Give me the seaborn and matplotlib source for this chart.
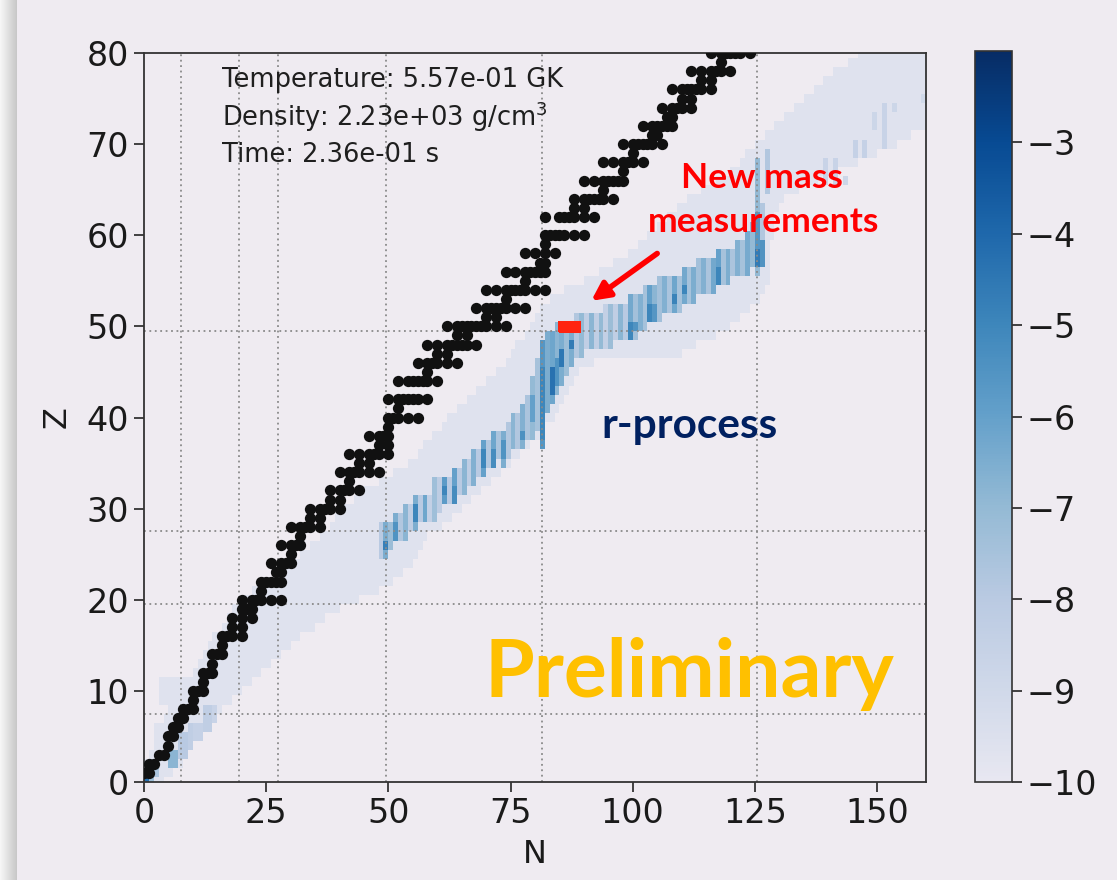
import numpy as np
import matplotlib
matplotlib.use("Agg")
import matplotlib.pyplot as plt
from matplotlib.colors import ListedColormap, to_rgb
import pandas as pd
import seaborn as sns

# ---------------------------------------------------------------- data
BG = "#efebf1"

TEMPERATURE_GK = 5.57e-01
DENSITY = 2.23e+03
TIME_S = 2.36e-01

MAGIC_N = [8, 20, 28, 50, 82, 126]
MAGIC_Z = [8, 20, 28, 50, 82]

# stable nuclei: neutron numbers for each proton number Z = 1..80
STABLE_Z = list(range(1, 81))
STABLE_N = [
    [0, 1], [1, 2], [3, 4], [5], [5, 6], [6, 7], [7, 8], [8, 9, 10], [10], [10, 11, 12],
    [12], [12, 13, 14], [14], [14, 15, 16], [16], [16, 17, 18, 20], [18, 20], [18, 20, 22],
    [20, 21, 22], [20, 22, 23, 24, 26, 28],
    [24], [24, 25, 26, 27, 28], [27, 28], [26, 28, 29, 30], [30], [28, 30, 31, 32], [32],
    [30, 32, 33, 34, 36], [34, 36], [34, 36, 37, 38, 40],
    [38, 40], [38, 40, 41, 42, 44], [42], [40, 42, 43, 44, 46, 48], [44, 46],
    [42, 44, 46, 47, 48, 50], [48, 50], [46, 48, 49, 50], [50], [50, 51, 52, 54, 56],
    [52], [50, 52, 53, 54, 55, 56, 58], [], [52, 54, 55, 56, 57, 58, 60], [58],
    [56, 58, 59, 60, 62, 64], [60, 62], [58, 60, 62, 63, 64, 65, 66, 68], [64, 66],
    [62, 64, 65, 66, 67, 68, 69, 70, 72, 74],
    [70, 72], [68, 70, 71, 72, 73, 74, 76, 78], [74], [70, 72, 74, 75, 76, 77, 78, 80, 82], [78],
    [74, 76, 78, 79, 80, 81, 82], [81, 82], [78, 80, 82, 84], [82], [82, 83, 84, 85, 86, 88, 90],
    [], [82, 85, 86, 87, 88, 90, 92], [88, 90], [88, 90, 91, 92, 93, 94, 96], [94],
    [90, 92, 94, 95, 96, 97, 98], [98], [94, 96, 98, 99, 100, 102], [100],
    [98, 100, 101, 102, 103, 104, 106],
    [104, 105], [102, 104, 105, 106, 107, 108], [107, 108], [106, 108, 109, 110, 112], [110, 112],
    [108, 110, 111, 112, 113, 114, 116], [114, 116], [112, 114, 116, 117, 118, 120], [118],
    [116, 118, 119, 120, 121, 122, 124],
]

# faint abundance band: first and last neutron number for Z = 0..80
ENV_LO = [0, 0, 1, 2, 3, 3, 3, 5, 6, 4, 4, 4, 11, 12, 13, 14, 15, 17, 18, 19,
          21, 23, 25, 28, 30, 33, 35, 37, 39, 40, 42, 44, 46, 49, 52, 55, 57, 58, 60, 62,
          63, 65, 67, 69, 71, 73, 75, 76, 77, 79, 80, 81, 82, 84, 87, 91, 94, 97, 100, 102,
          104, 106, 108, 110, 112, 115, 118, 121, 123, 124, 126, 128, 130, 132, 134, 136,
          138, 140, 142, 145, 147]
ENV_HI = [4, 6, 8, 9, 10, 11, 13, 14, 16, 18, 20, 22, 24, 26, 28, 30, 32, 35, 37, 40,
          44, 48, 51, 53, 55, 56, 57, 58, 61, 63, 65, 67, 69, 71, 73, 75, 77, 79, 81, 82,
          84, 85, 86, 87, 88, 89, 92, 110, 113, 117, 120, 122, 124, 126, 127, 128, 128, 128,
          128, 128, 129, 129, 129, 130, 131, 134, 138, 142, 146, 150, 154, 157, 160, 160,
          160, 160, 160, 160, 160, 160, 160]
ENV_LOGY = -9.6

# r-process abundance strips: neutron number, Z range, log10 abundance
STRIP_N = [1, 2, 1, 3, 6, 7, 8, 9, 10, 11, 12, 13, 14, 15,
           49, 50, 50, 51, 52, 52, 53, 54, 55, 56, 56, 57, 58, 59, 60, 61, 62, 62, 63, 64, 64,
           65, 66, 67, 68, 69, 70, 70, 71, 72, 72, 73, 74, 74, 75, 76, 77, 78, 78, 79, 80, 80,
           81, 82, 82, 83, 84, 84, 85, 85, 86, 86, 87, 88, 88, 89, 90, 91, 92, 93, 94, 95, 96,
           97, 98, 99, 100, 100, 101, 101, 102, 103, 104, 104, 105, 105, 106, 107, 108, 109,
           109, 110, 111, 111, 112, 113, 114, 115, 116, 117, 118, 118, 119, 120, 121, 122,
           123, 124, 125, 126, 126, 126, 127, 127, 128,
           140, 142, 144, 146, 148, 150, 152, 154, 160]
STRIP_ZLO = [0, 0, 0, 1, 2, 2, 3, 3, 4, 5, 5, 6, 6, 7,
             25, 25, 26, 26, 27, 27, 27, 27, 28, 28, 29, 29, 29, 29, 29, 30, 31, 32, 31, 31, 31,
             32, 32, 33, 33, 34, 34, 35, 35, 35, 35, 36, 35, 36, 36, 37, 37, 37, 38, 38, 38, 40,
             39, 37, 38, 41, 42, 43, 43, 44, 44, 46, 45, 46, 48, 47, 47, 48, 48, 48, 48, 48, 48,
             49, 49, 49, 49, 49, 49, 50, 50, 50, 51, 51, 51, 51, 51, 52, 52, 52,
             53, 52, 53, 54, 53, 53, 54, 54, 54, 54, 55, 55, 55, 55, 56, 56,
             56, 56, 57, 56, 57, 57, 57, 60, 65,
             66, 66, 66, 69, 69, 72, 70, 74, 75]
STRIP_ZHI = [1, 2, 0, 2, 3, 3, 5, 5, 6, 6, 6, 8, 8, 8,
             28, 28, 26, 28, 29, 28, 29, 30, 30, 31, 30, 31, 31, 31, 33, 33, 33, 32, 33, 34, 32,
             34, 35, 35, 36, 36, 37, 36, 37, 38, 36, 38, 38, 37, 39, 40, 40, 41, 38, 42, 44, 42,
             46, 48, 45, 49, 49, 45, 50, 46, 50, 47, 50, 50, 48, 51, 51, 51, 51, 51, 51, 52, 52,
             52, 52, 52, 53, 50, 53, 50, 53, 54, 54, 52, 54, 52, 55, 55, 55, 55,
             53, 55, 56, 54, 56, 56, 57, 57, 57, 57, 58, 56, 58, 58, 58, 59,
             59, 60, 61, 68, 62, 58, 59, 63, 69,
             68, 68, 66, 70, 70, 73, 74, 74, 75]
STRIP_LOGY = [-6.5, -7.2, -4.2, -7.6, -6.8, -6.8, -8.0, -8.0, -8.3, -8.5, -8.5, -8.3, -8.3, -8.6,
              -8.0, -6.5, -4.8, -7.2, -6.5, -5.5, -7.8, -6.8, -8.2, -6.5, -5.0, -8.0, -6.2, -8.4,
              -7.3, -8.2, -5.8, -5.0, -8.0, -6.0, -5.2,
              -8.0, -6.8, -8.2, -6.6, -8.0, -6.0, -5.0, -7.8, -6.2, -5.2, -7.6, -6.5, -5.5, -7.8,
              -6.8, -7.8, -6.6, -5.4, -7.6, -7.0, -6.0,
              -7.5, -5.6, -5.0, -6.5, -6.2, -4.3, -6.8, -5.5, -6.5, -4.5, -7.2, -6.5, -4.6, -7.8,
              -7.0, -8.3, -6.8, -8.3, -7.0, -8.4, -7.2,
              -8.3, -6.8, -8.0, -6.3, -5.0, -7.4, -5.5, -6.6, -7.5, -6.0, -5.0, -6.8, -5.6, -7.4,
              -6.6, -7.6, -6.2,
              -4.9, -7.5, -6.3, -5.0, -7.5, -6.5, -7.4, -6.6, -7.6, -6.3, -6.0, -5.0, -7.5, -6.5,
              -7.6, -6.6,
              -7.5, -6.4, -7.0, -7.0, -5.6, -4.6, -5.5, -7.8, -7.8,
              -8.6, -8.6, -8.8, -8.5, -8.5, -8.8, -8.6, -8.8, -9.0]

# newly measured nuclei
MEASURED_Z = 50
MEASURED_N = [86, 87, 88, 89]

LOG_MIN, LOG_MAX = -10.0, -2.0
N_MAX, Z_MAX = 160, 80

# ---------------------------------------------------------------- style
sns.set_theme(style="ticks")
plt.rcParams["font.family"] = ["DejaVu Sans"]
plt.rcParams["axes.edgecolor"] = "#333333"
plt.rcParams["axes.linewidth"] = 1.3

tint = np.array(to_rgb(BG))
blues = plt.get_cmap("Blues")(np.linspace(0, 1, 256))[:, :3] * tint
cmap = ListedColormap(blues)

# ---------------------------------------------------------------- grids
grid = np.full((Z_MAX + 1, N_MAX + 1), np.nan)
for z in range(Z_MAX + 1):
    grid[z, ENV_LO[z]:ENV_HI[z] + 1] = ENV_LOGY
for n, z0, z1, v in zip(STRIP_N, STRIP_ZLO, STRIP_ZHI, STRIP_LOGY):
    col = grid[z0:z1 + 1, n]
    grid[z0:z1 + 1, n] = np.where(np.isnan(col), v, np.maximum(col, v))

# cell N occupies [N-1, N]; cell Z is centred on Z
n_edges = np.arange(-1, N_MAX + 1)
z_edges = np.arange(-0.5, Z_MAX + 1)

meas_n_edges = np.arange(min(MEASURED_N) - 1, max(MEASURED_N) + 1)
meas_z_edges = np.array([MEASURED_Z - 0.5, MEASURED_Z + 0.5])
meas_vals = np.ones((1, len(MEASURED_N)))

stable = pd.DataFrame(
    [(n, z) for z, ns in zip(STABLE_Z, STABLE_N) for n in ns], columns=["N", "Z"]
)

# ---------------------------------------------------------------- figure
W, H = 1117, 880
fig = plt.figure(figsize=(W / 100, H / 100), dpi=100, facecolor=BG)
ax = fig.add_axes([144 / W, 1 - 782 / H, 782 / W, 729 / H], facecolor=BG)
cax = fig.add_axes([975 / W, 1 - 782 / H, 37 / W, 731 / H])

# soft shadow along the left edge of the slide
shade = fig.add_axes([0, 0, 17 / W, 1])
shade.imshow(np.linspace(0.97, 0.78, 64)[None, :], cmap="gray", vmin=0, vmax=1,
             aspect="auto", extent=[0, 1, 0, 1])
shade.set_axis_off()

mesh = ax.pcolormesh(n_edges, z_edges, grid, cmap=cmap, vmin=LOG_MIN, vmax=LOG_MAX,
                     shading="flat", zorder=1)
ax.pcolormesh(meas_n_edges, meas_z_edges, meas_vals, cmap=ListedColormap(["#ff2410"]),
              shading="flat", edgecolors="#ff2410", linewidth=1.8, zorder=4)

for m in MAGIC_N:
    ax.axvline(m - 0.5, color="#8a8a8a", lw=1.3, ls=(0, (1, 2)), zorder=2)
for m in MAGIC_Z:
    ax.axhline(m - 0.5, color="#8a8a8a", lw=1.3, ls=(0, (1, 2)), zorder=2)

sns.scatterplot(data=stable, x="N", y="Z", ax=ax, color="#111111", s=66,
                linewidth=0, zorder=3, legend=False)

ax.set_xlim(0, N_MAX)
ax.set_ylim(0, Z_MAX)
ax.set_xticks([0, 25, 50, 75, 100, 125, 150])
ax.set_yticks(range(0, 81, 10))
ax.tick_params(labelsize=24, length=7, width=1.3, color="#333333", labelcolor="#1a1a1a",
               pad=4)
ax.set_xlabel("N", fontsize=23, color="#1a1a1a", labelpad=6)
ax.set_ylabel("Z", fontsize=23, color="#1a1a1a", labelpad=10)
for sp in ax.spines.values():
    sp.set_visible(True)

cb = fig.colorbar(mesh, cax=cax, ticks=range(-10, -2))
cb.outline.set_edgecolor("#333333")
cb.outline.set_linewidth(1.2)
cax.tick_params(labelsize=24, length=7, width=1.3, color="#333333", labelcolor="#1a1a1a")

# run conditions
info = [
    f"Temperature: {TEMPERATURE_GK:.2e} GK",
    f"Density: {DENSITY:.2e} g/cm$^3$",
    f"Time: {TIME_S:.2e} s",
]
for txt, yb in zip(info, [0.9527, 0.9005, 0.8498]):
    ax.text(0.1, yb, txt, transform=ax.transAxes, fontsize=18.5, color="#1f1f1f",
            va="baseline", ha="left", zorder=6)

label_font = dict(fontweight="bold", family=["Lato", "DejaVu Sans"], zorder=6,
                  transform=ax.transAxes, ha="center", va="center")
ax.text(0.790, 0.8285, "New mass", fontsize=25.5, color="#ff0000", **label_font)
ax.text(0.792, 0.7682, "measurements", fontsize=25.5, color="#ff0000", **label_font)
ax.annotate("", xy=(91.5, 52.8), xytext=(105.0, 58.0),
            arrowprops=dict(arrowstyle="-|>,head_length=0.9,head_width=0.45",
                            color="#ff0000", lw=4, shrinkA=0, shrinkB=0), zorder=6)
ax.text(0.698, 0.488, "r-process", fontsize=30.5, color="#002060", **label_font)
ax.text(0.698, 0.148, "Preliminary", fontsize=58, color="#ffc000", **label_font)

fig.savefig("out.png", dpi=100, facecolor=BG)
